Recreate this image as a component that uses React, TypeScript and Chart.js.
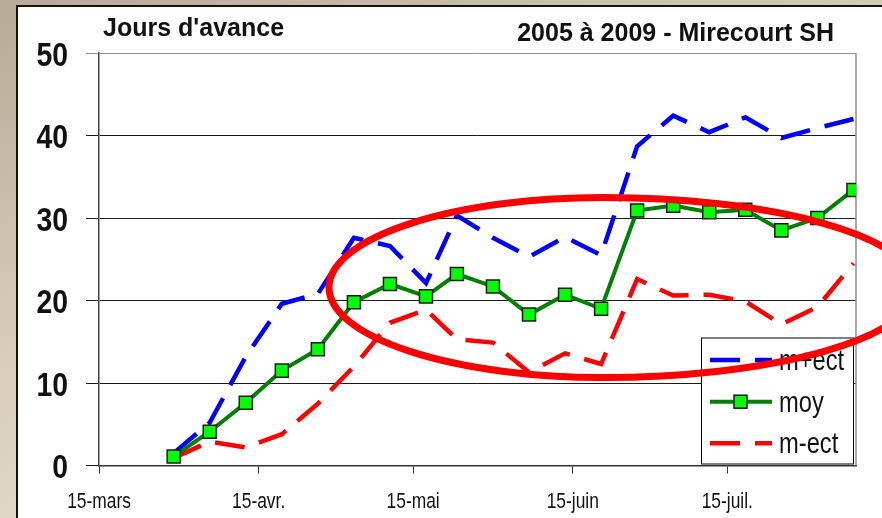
import React, { useEffect, useRef } from "react";
import { Chart, registerables } from "chart.js";

Chart.register(...registerables);

// Days after 15 March of each weekly observation
const dayOffsets = [14, 21, 28, 35, 42, 49, 56, 63, 69, 76, 83, 90, 97, 104, 111, 118, 125, 132, 139, 146];
const moy = [1.1, 4.1, 7.6, 11.5, 14.1, 19.8, 22.0, 20.5, 23.2, 21.7, 18.3, 20.7, 19.0, 30.9, 31.5, 30.7, 31.0, 28.5, 30.0, 33.4];
const mPlusEct = [1.5, 5.2, 13.2, 19.6, 20.8, 27.6, 26.6, 22.1, 30.3, 27.6, 25.3, 27.7, 25.5, 38.7, 42.4, 40.4, 42.2, 39.7, 40.9, 42.0];
const mMinusEct = [0.9, 2.9, 2.2, 3.8, 7.5, 12.0, 17.3, 18.9, 15.3, 14.9, 11.3, 13.6, 12.3, 22.6, 20.6, 20.7, 19.9, 17.1, 19.2, 24.5];

const tickDays = [0, 31, 61, 92, 122];
const tickLabels = ["15-mars", "15-avr.", "15-mai", "15-juin", "15-juil."];
const yTickValues = [0, 10, 20, 30, 40, 50];
const seriesNames = ["m+ect", "moy", "m-ect"];
const titleLeft = "Jours d'avance";
const titleRight = "2005 à 2009 - Mirecourt SH";

const FONT = "'Liberation Sans', Arial, sans-serif";
const DASH = [30, 15];

const toPoints = (vals: number[]) => vals.map((v, i) => ({ x: dayOffsets[i] + 0.5, y: v }));

function drawText(
  ctx: CanvasRenderingContext2D,
  text: string,
  x: number,
  y: number,
  font: string,
  sx: number,
  align: CanvasTextAlign
) {
  ctx.save();
  ctx.translate(x, y);
  ctx.scale(sx, 1);
  ctx.font = font;
  ctx.textAlign = align;
  ctx.textBaseline = "alphabetic";
  ctx.fillText(text, 0, 0);
  ctx.restore();
}

const overlayPlugin = {
  id: "overlay",
  beforeDatasetsDraw(chart: any) {
    const ctx = chart.ctx;
    const { top, right, bottom } = chart.chartArea;
    ctx.save();
    ctx.strokeStyle = "#909090";
    ctx.lineWidth = 1.5;
    ctx.beginPath();
    ctx.moveTo(right, top);
    ctx.lineTo(right, bottom);
    ctx.stroke();
    ctx.restore();
  },
  afterDraw(chart: any) {
    const ctx = chart.ctx;
    const xs = chart.scales.x;
    const ys = chart.scales.y;
    ctx.save();
    ctx.fillStyle = "#111";

    // axis tick labels
    yTickValues.forEach((v) => {
      drawText(ctx, String(v), 68, ys.getPixelForValue(v) + 12.5, `bold 33px ${FONT}`, 0.86, "right");
    });
    tickDays.forEach((d, i) => {
      drawText(ctx, tickLabels[i], xs.getPixelForValue(d), 507.5, `22px ${FONT}`, 0.79, "center");
    });

    // titles
    drawText(ctx, titleLeft, 103, 36, `bold 25px ${FONT}`, 1, "left");
    drawText(ctx, titleRight, 834, 40.5, `bold 25px ${FONT}`, 1, "right");

    // legend
    const bx = 701, by = 337.5, bw = 152, bh = 126;
    ctx.fillStyle = "#fff";
    ctx.fillRect(bx, by, bw, bh);
    ctx.strokeStyle = "#000";
    ctx.lineWidth = 1;
    ctx.strokeRect(bx + 0.5, by + 0.5, bw, bh);
    const rowsY = [360, 401.7, 443.3];
    chart.data.datasets.forEach((ds: any, i: number) => {
      const y = rowsY[i];
      ctx.save();
      ctx.strokeStyle = ds.borderColor;
      ctx.lineWidth = ds.borderWidth;
      ctx.setLineDash(ds.borderDash || []);
      ctx.beginPath();
      ctx.moveTo(710, y);
      ctx.lineTo(772, y);
      ctx.stroke();
      ctx.restore();
      if (ds.pointRadius > 0) {
        ctx.fillStyle = ds.pointBackgroundColor;
        ctx.strokeStyle = ds.pointBorderColor;
        ctx.lineWidth = ds.pointBorderWidth;
        ctx.fillRect(734, y - 6.5, 13, 13);
        ctx.strokeRect(734, y - 6.5, 13, 13);
      }
      ctx.fillStyle = "#111";
      drawText(ctx, ds.label, 779, y + 10, `30px ${FONT}`, 0.79, "left");
    });

    // red ellipse annotation
    ctx.strokeStyle = "#ff0000";
    ctx.lineWidth = 7;
    ctx.beginPath();
    ctx.ellipse(603, 287.5, 274, 90, 0, Math.PI / 2, (3 * Math.PI) / 2);
    ctx.ellipse(603, 287.5, 314, 90, 0, -Math.PI / 2, Math.PI / 2);
    ctx.stroke();
    ctx.restore();
  },
};

export default function App() {
  const ref = useRef<HTMLCanvasElement | null>(null);

  useEffect(() => {
    if (!ref.current) return;
    const chart = new Chart(ref.current, {
      type: "line",
      data: {
        datasets: [
          {
            label: seriesNames[0],
            data: toPoints(mPlusEct),
            borderColor: "#0000ff",
            borderWidth: 4.5,
            borderDash: DASH,
            pointRadius: 0,
            fill: false,
            order: 2,
          },
          {
            label: seriesNames[1],
            data: toPoints(moy),
            borderColor: "#008000",
            borderWidth: 4,
            pointStyle: "rect",
            pointRadius: 9.2,
            pointBackgroundColor: "#00ff00",
            pointBorderColor: "#1a1a1a",
            pointBorderWidth: 1.5,
            fill: false,
            order: 0,
          },
          {
            label: seriesNames[2],
            data: toPoints(mMinusEct),
            borderColor: "#ff0000",
            borderWidth: 4.5,
            borderDash: DASH,
            pointRadius: 0,
            fill: false,
            order: 1,
          },
        ] as any,
      },
      options: {
        animation: false,
        responsive: false,
        layout: { padding: { left: 0, right: 26, top: 53, bottom: 0 } },
        plugins: { legend: { display: false }, tooltip: { enabled: false }, title: { display: false } },
        scales: {
          x: {
            type: "linear",
            min: 0,
            max: 147,
            afterBuildTicks: (scale: any) => {
              scale.ticks = tickDays.map((v) => ({ value: v }));
            },
            afterFit: (scale: any) => {
              scale.height = 52.5;
            },
            ticks: { display: false, autoSkip: false, maxRotation: 0 },
            grid: { drawOnChartArea: false, drawTicks: true, tickLength: 8, color: "#333" },
            border: { display: true, color: "#333", width: 1.5 },
          },
          y: {
            min: 0,
            max: 50,
            afterFit: (scale: any) => {
              scale.width = 99;
            },
            ticks: { display: false, stepSize: 10 },
            grid: {
              drawTicks: true,
              tickLength: 13,
              lineWidth: 1,
              color: (c: any) => (c.tick && c.tick.value === 50 ? "#909090" : "#1a1a1a"),
            },
            border: { display: true, color: "#444", width: 1.5 },
          },
        },
      } as any,
      plugins: [overlayPlugin],
    });
    return () => chart.destroy();
  }, []);

  return (
    <div
      style={{
        position: "fixed",
        left: 0,
        top: 0,
        width: 882,
        height: 518,
        overflow: "hidden",
        background: "linear-gradient(160deg, #b8ab96 0%, #d9cfbb 45%, #ece6d6 100%)",
      }}
    >
      <div
        style={{
          position: "absolute",
          left: 16,
          top: 5,
          width: 900,
          height: 600,
          border: "2px solid #111",
          background: "#fff",
        }}
      />
      <canvas ref={ref} width={882} height={518} style={{ position: "absolute", left: 0, top: 0 }} />
    </div>
  );
}
